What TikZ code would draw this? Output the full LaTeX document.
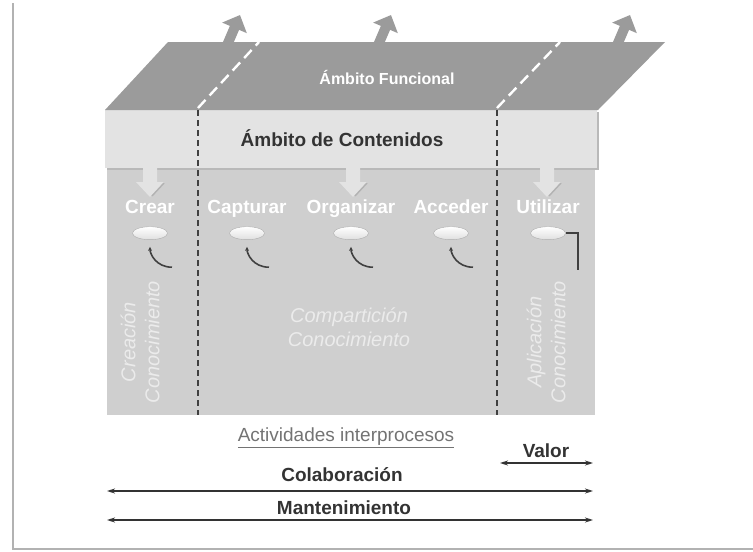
\documentclass[tikz,border=0pt]{standalone}
\usepackage{fontspec}
\setmainfont{Liberation Sans}
\usepackage{tikz}
\usetikzlibrary{positioning,shapes.geometric,arrows.meta}
\usepackage{xcolor}
\definecolor{funcgray}{HTML}{9B9B9B}
\definecolor{contgray}{HTML}{E3E3E3}
\definecolor{bodygray}{HTML}{CFCFCF}

\begin{document}
\begin{tikzpicture}[
    x=1pt, y=-1pt,
    lbl/.style      = {text=white, inner sep=0pt, text height=13.5pt, text depth=4pt,
                       font=\bfseries\fontsize{19}{22}\selectfont},
    faint/.style    = {text=white!92!black, inner sep=0pt, align=center,
                       font=\itshape\fontsize{20}{24}\selectfont},
    note/.style     = {text=black!80, inner sep=0pt, text height=13.5pt, text depth=4pt,
                       font=\bfseries\fontsize{19}{22}\selectfont},
    oval/.style     = {ellipse, draw=gray!65, top color=white, bottom color=gray!25,
                       minimum width=35pt, minimum height=13pt, inner sep=0pt},
    feed/.style     = {-{Stealth[length=4pt,width=4pt]}, line width=1.6pt, black!75},
    sep/.style      = {line width=2pt, black!75, dash pattern=on 6pt off 4pt},
    wsep/.style     = {line width=2.4pt, white, dash pattern=on 11pt off 6pt},
    uparr/.style    = {line width=10pt, funcgray, -{Triangle[width=26pt,length=14pt]}},
    span/.style     = {{Stealth[length=8pt,width=5pt]}-{Stealth[length=8pt,width=5pt]},
                       line width=1.5pt, black!80}
]
\useasboundingbox (0,0) rectangle (753,552);
\draw[gray!60, line width=2pt] (13,3) -- (13,549) -- (753,549);

% body, contents band and functional plane
\fill[bodygray] (107,168) rectangle (595,415);
\fill[gray!55] (107,112) rectangle (599,170);
\fill[contgray] (105,110) rectangle (597,168);
\fill[funcgray] (105,110) -- (168,42) -- (665,42) -- (598,110) -- cycle;

\node[text=white, inner sep=0pt, font=\bfseries\fontsize{16}{19}\selectfont]
    (func) at (387,77) {Ámbito Funcional};
\node[note] (cont) at (342,142) {Ámbito de Contenidos};

% outgoing arrows
\foreach \x in {225,376,615}
    \draw[uparr] (\x,50) -- (\x+15,15);

% separators
\draw[sep]  (198,110) -- (198,415);
\draw[sep]  (497,110) -- (497,415);
\draw[wsep] (198,108) -- (259,42);
\draw[wsep] (497,108) -- (560,42);

% arrows into the processes
\foreach \x in {150,353,547} {
    \fill[contgray] (\x-7,166) -- (\x+7,166) -- (\x+7,182) -- (\x+14,182)
        -- (\x,197) -- (\x-14,182) -- (\x-7,182) -- cycle;
    \draw[gray!60, line width=1.4pt] (\x+14,183) -- (\x+2,196);
}

\node[lbl] (crear)     at (150,209) {Crear};
\node[lbl] (capturar)  at (247,209) {Capturar};
\node[lbl] (organizar) at (351,209) {Organizar};
\node[lbl] (acceder)   at (451,209) {Acceder};
\node[lbl] (utilizar)  at (548,209) {Utilizar};

\foreach \n in {crear,capturar,organizar,acceder,utilizar}
    \node[oval, below=17.5pt of \n.center] (o\n) {};

\foreach \n in {crear,capturar,organizar,acceder} {
    \coordinate (t\n) at ([xshift=22pt,yshift=-34pt]o\n.center);
    \draw[feed, shorten >=7pt] (t\n) .. controls +(-16,0) and +(0,14) .. (o\n.south);
}
\coordinate (tutilizar) at (578,270);
\draw[line width=1.8pt, black!75] (outilizar.east) -| (tutilizar);

\node[faint, rotate=90] (creacion) at (140,342) {Creación\\Conocimiento};
\node[faint] (comparticion) at (349,327) {Compartición\\Conocimiento};
\node[faint, rotate=90] (aplicacion) at (546,342) {Aplicación\\Conocimiento};

% interprocess activities
\node[inner sep=0pt, text=black!55, font=\fontsize{19}{22}\selectfont]
    (activ) at (346,438) {\underline{Actividades interprocesos}};
\node[note] (valor) at (546,453) {Valor};
\node[note] (colab) at (342,477) {Colaboración};
\node[note] (mant)  at (344,510) {Mantenimiento};

\coordinate (vl) at (500,463);
\coordinate (vr) at (593,463);
\coordinate (cl) at (107,491);
\coordinate (cr) at (593,491);
\coordinate (ml) at (107,520);
\coordinate (mr) at (593,520);
\draw[span] (vl) -- (vr);
\draw[span] (cl) -- (cr);
\draw[span] (ml) -- (mr);

\end{tikzpicture}
\end{document}
